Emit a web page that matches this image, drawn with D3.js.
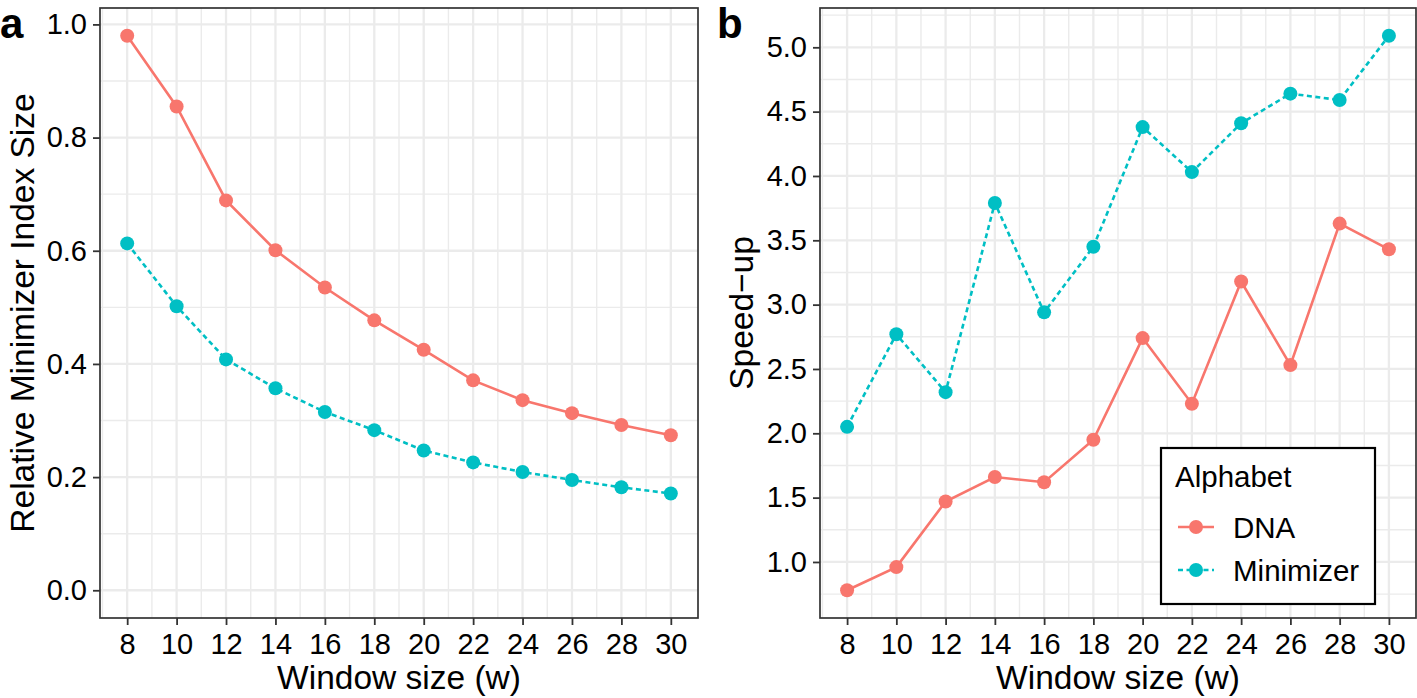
<!DOCTYPE html>
<html><head><meta charset="utf-8">
<script src="https://cdn.jsdelivr.net/npm/d3@7"></script>
<style>body{margin:0;background:#fff}svg{display:block}text{font-family:"Liberation Sans",Arial,Helvetica,sans-serif}</style>
</head><body>
<svg id="c" width="1417" height="698"></svg>
<script>
const windowSizes = [8,10,12,14,16,18,20,22,24,26,28,30];
const seriesNames = ["DNA","Minimizer"];
const indexSizeDNA = [0.98,0.855,0.689,0.601,0.535,0.477,0.425,0.371,0.336,0.313,0.292,0.274];
const indexSizeMin = [0.613,0.502,0.408,0.357,0.315,0.283,0.247,0.226,0.209,0.195,0.182,0.171];
const speedDNA = [0.78,0.96,1.47,1.66,1.62,1.95,2.74,2.23,3.18,2.53,3.63,3.43];
const speedMin = [2.05,2.77,2.32,3.79,2.94,3.45,4.38,4.03,4.41,4.64,4.59,5.09];
const yTicksA = [0,0.2,0.4,0.6,0.8,1.0];
const yTicksB = [1.0,1.5,2.0,2.5,3.0,3.5,4.0,4.5,5.0];
const colors = {DNA:"#F8766D", Minimizer:"#00BFC4"};
const dashes = {DNA:null, Minimizer:"5,3.5"};

const svg = d3.select("#c");

function panel(opts){
  const {x0,x1,y0,y1,yDomain,yTicks,series,yTitle,yTitleX,letter,letterX} = opts;
  const g = svg.append("g");
  const x = d3.scaleLinear().domain([6.9,31.1]).range([x0,x1]);
  const y = d3.scaleLinear().domain(yDomain).range([y1,y0]);
  const xMinor = d3.range(7,31,2);
  const yStep = yTicks[1]-yTicks[0];
  const yMinor = [];
  for(let i=0;i<=yTicks.length;i++){const v=yTicks[0]-yStep/2+i*yStep; if(v>yDomain[0]&&v<yDomain[1]) yMinor.push(v);}
  g.selectAll(".mx").data(xMinor).enter().append("line").attr("x1",d=>x(d)).attr("x2",d=>x(d)).attr("y1",y0).attr("y2",y1).attr("stroke","#ebebeb").attr("stroke-width",1.4);
  g.selectAll(".my").data(yMinor).enter().append("line").attr("y1",d=>y(d)).attr("y2",d=>y(d)).attr("x1",x0).attr("x2",x1).attr("stroke","#ebebeb").attr("stroke-width",1.4);
  g.selectAll(".gx").data(windowSizes).enter().append("line").attr("x1",d=>x(d)).attr("x2",d=>x(d)).attr("y1",y0).attr("y2",y1).attr("stroke","#ebebeb").attr("stroke-width",2.3);
  g.selectAll(".gy").data(yTicks).enter().append("line").attr("y1",d=>y(d)).attr("y2",d=>y(d)).attr("x1",x0).attr("x2",x1).attr("stroke","#ebebeb").attr("stroke-width",2.3);
  series.forEach(s=>{
    const pts = windowSizes.map((w,i)=>[w,s.values[i]]);
    const line = d3.line().x(d=>x(d[0])).y(d=>y(d[1]));
    g.append("path").datum(pts).attr("d",line).attr("fill","none").attr("stroke",colors[s.name]).attr("stroke-width",2.6).attr("stroke-dasharray",dashes[s.name]);
    g.selectAll(null).data(pts).enter().append("circle").attr("cx",d=>x(d[0])).attr("cy",d=>y(d[1])).attr("r",7).attr("fill",colors[s.name]);
  });
  g.append("rect").attr("x",x0).attr("y",y0).attr("width",x1-x0).attr("height",y1-y0).attr("fill","none").attr("stroke","#333").attr("stroke-width",1.7);
  const xa = g.append("g").attr("transform",`translate(0,${y1})`).call(d3.axisBottom(x).tickValues(windowSizes).tickSize(7).tickPadding(8).tickFormat(d3.format("d")));
  const ya = g.append("g").attr("transform",`translate(${x0},0)`).call(d3.axisLeft(y).tickValues(yTicks).tickSize(7).tickPadding(6).tickFormat(d3.format(".1f")));
  [xa,ya].forEach(a=>{a.select(".domain").remove(); a.selectAll(".tick line").attr("stroke","#333").attr("stroke-width",1.8); a.selectAll("text").attr("font-size",29).attr("fill","#000").attr("font-family","'Liberation Sans',Arial,sans-serif");});
  g.append("text").attr("x",(x0+x1)/2).attr("y",689).attr("text-anchor","middle").attr("font-size",33.5).text("Window size (w)");
  g.append("text").attr("transform",`translate(${yTitleX},${(y0+y1)/2}) rotate(-90)`).attr("text-anchor","middle").attr("font-size",33.5).text(yTitle);
  g.append("text").attr("x",letterX).attr("y",38).attr("font-size",42).attr("font-weight","bold").text(letter);
  return {x,y,g};
}

panel({x0:100,x1:698,y0:8,y1:618,yDomain:[-0.049,1.029],yTicks:yTicksA,
  series:[{name:"DNA",values:indexSizeDNA},{name:"Minimizer",values:indexSizeMin}],
  yTitle:"Relative Minimizer Index Size",yTitleX:34,letter:"a",letterX:0});
panel({x0:820,x1:1416,y0:8,y1:618,yDomain:[0.5645,5.3055],yTicks:yTicksB,
  series:[{name:"DNA",values:speedDNA},{name:"Minimizer",values:speedMin}],
  yTitle:"Speed\u2212up",yTitleX:753,letter:"b",letterX:717});

const lg = svg.append("g");
lg.append("rect").attr("x",1161).attr("y",448).attr("width",214).attr("height",156).attr("fill","#fff").attr("stroke","#000").attr("stroke-width",2.2);
lg.append("text").attr("x",1175).attr("y",487).attr("font-size",29.5).text("Alphabet");
seriesNames.forEach((n,i)=>{
  const cy = 527 + i*43;
  lg.append("line").attr("x1",1178).attr("x2",1214).attr("y1",cy).attr("y2",cy).attr("stroke",colors[n]).attr("stroke-width",2.6).attr("stroke-dasharray",dashes[n]);
  lg.append("circle").attr("cx",1196).attr("cy",cy).attr("r",7).attr("fill",colors[n]);
  lg.append("text").attr("x",1233).attr("y",cy+10.5).attr("font-size",29.5).text(n);
});
</script>
</body></html>
